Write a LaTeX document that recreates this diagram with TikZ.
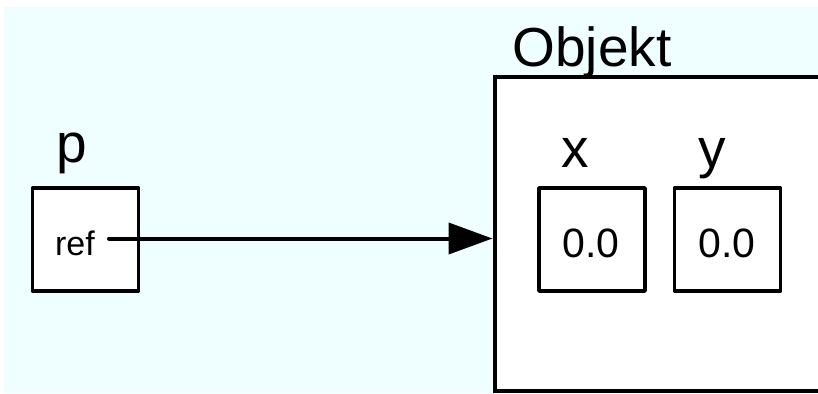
\documentclass[tikz,border=0pt]{standalone}
\usepackage{fontspec}
\setmainfont{Liberation Sans}
\usetikzlibrary{arrows.meta}
\definecolor{paper}{HTML}{EFFFFF}
\tikzset{
  cell/.style={draw=black, fill=white, line width=3.5pt, rectangle,
    minimum width=106pt, minimum height=103pt, inner sep=0pt, line join=round},
  objframe/.style={draw=black, fill=white, line width=4pt, rectangle,
    inner sep=0pt, anchor=north west},
  biglabel/.style={anchor=base, inner sep=0pt, font=\fontsize{55}{60}\selectfont},
  value/.style={anchor=base, inner sep=0pt, font=\fontsize{41}{46}\selectfont},
  smallval/.style={anchor=base, inner sep=0pt, font=\fontsize{34}{38}\selectfont},
  refarrow/.style={line width=4pt, line cap=round,
    -{Triangle[length=44pt, width=31pt]}}
}
\begin{document}
\begin{tikzpicture}[x=1pt, y=-1pt]
  \useasboundingbox (0,0) rectangle (818,393);
  \clip (0,0) rectangle (818,393);
  % light background panel
  \fill[paper] (4,7) rectangle (818,393);

  % the object, running off the right edge
  \node[objframe, minimum width=360pt, minimum height=314pt] (obj) at (492.5,75) {};
  \node[biglabel] (objlabel) at (592,67) {Objekt};

  % reference variable p
  \node[cell] (p) at (85.5,239.5) {};
  \node[biglabel] (plabel) at (72,162) {p};
  \node[smallval] (ref) at (75,255) {ref};
  \coordinate (refstart) at (109,238.5);

  % fields x and y
  \node[cell] (fx) at (592,239.5) {};
  \node[biglabel] (xlabel) at (575,167) {x};
  \node[value] (xval) at (591,257) {0.0};

  \node[cell] (fy) at (727.5,239.5) {};
  \node[biglabel] (ylabel) at (712,167) {y};
  \node[value] (yval) at (727,257) {0.0};

  % pointer from p to the object
  \draw[refarrow] (refstart) -- (refstart -| obj.west);
\end{tikzpicture}
\end{document}
